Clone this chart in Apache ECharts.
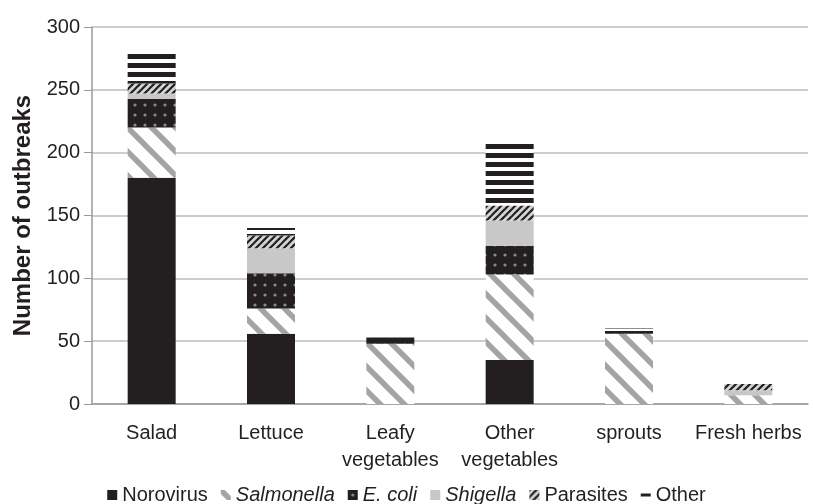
<!DOCTYPE html>
<html>
<head>
<meta charset="utf-8">
<script src="https://cdn.jsdelivr.net/npm/echarts@6/dist/echarts.min.js"></script>
<style>
  html, body { margin: 0; padding: 0; background: #fff; }
  #chart { width: 813px; height: 504px; }
</style>
</head>
<body>
<div id="chart"></div>
<script>
// data
var categories = ['Salad', 'Lettuce', 'Leafy\nvegetables', 'Other\nvegetables', 'sprouts', 'Fresh herbs'];
var norovirus  = [180, 56, 0, 35, 0, 0];
var salmonella = [40, 20, 48, 68, 56, 7];
var ecoli      = [23, 28, 5, 23, 2, 0];
var shigella   = [4, 20, 0, 20, 0, 4];
var parasites  = [8, 10, 0, 12, 0, 5];
var other      = [26, 6, 0, 49, 2, 0];
var yTicks = [0, 50, 100, 150, 200, 250, 300];

// fill patterns
function tile(w, h, draw) {
  var c = document.createElement('canvas');
  c.width = w; c.height = h;
  draw(c.getContext('2d'), w, h);
  return { image: c, repeat: 'repeat' };
}
var salmonellaFill = tile(24, 24, function (ctx, w, h) {
  ctx.fillStyle = '#fff'; ctx.fillRect(0, 0, w, h);
  ctx.strokeStyle = '#a4a4a4'; ctx.lineWidth = 5.5;
  [-24, 0, 24].forEach(function (c) {
    ctx.beginPath(); ctx.moveTo(-5, -5 + c); ctx.lineTo(29, 29 + c); ctx.stroke();
  });
});
var ecoliFill = tile(10, 10, function (ctx, w, h) {
  ctx.fillStyle = '#231f20'; ctx.fillRect(0, 0, w, h);
  ctx.fillStyle = '#8a8a8a';
  ctx.beginPath(); ctx.arc(5, 5, 1.6, 0, Math.PI * 2); ctx.fill();
});
var parasitesFill = tile(7, 7, function (ctx, w, h) {
  ctx.fillStyle = '#d4d4d4'; ctx.fillRect(0, 0, w, h);
  ctx.strokeStyle = '#231f20'; ctx.lineWidth = 2.2;
  [0, 7, 14].forEach(function (c) {
    ctx.beginPath(); ctx.moveTo(-3, c + 3); ctx.lineTo(c + 3, -3); ctx.stroke();
  });
});
var otherFill = tile(4, 9, function (ctx, w, h) {
  ctx.fillStyle = '#fff'; ctx.fillRect(0, 0, w, h);
  ctx.fillStyle = '#231f20'; ctx.fillRect(0, 0, w, 5);
});

var textColor = '#231f20';
var font = 'Liberation Sans, Arial, sans-serif';
var chart = echarts.init(document.getElementById('chart'));

function bar(name, data, fill) {
  return {
    name: name, type: 'bar', stack: 'total', data: data, barWidth: 48,
    itemStyle: { color: fill }, emphasis: { disabled: true }
  };
}

chart.setOption({
  animation: false,
  grid: { left: 92, right: 5, top: 27, bottom: 100 },
  legend: {
    top: 480, left: 'center', itemWidth: 10, itemHeight: 10, itemGap: 13,
    textStyle: { fontSize: 20, color: textColor, fontFamily: font,
      rich: { i: { fontStyle: 'italic', fontSize: 20, color: textColor, fontFamily: font } } },
    formatter: function (n) {
      return (n === 'Salmonella' || n === 'E. coli' || n === 'Shigella') ? '{i|' + n + '}' : n;
    },
    data: [
      { name: 'Norovirus', icon: 'rect' },
      { name: 'Salmonella', icon: 'rect' },
      { name: 'E. coli', icon: 'rect' },
      { name: 'Shigella', icon: 'rect' },
      { name: 'Parasites', icon: 'rect' },
      { name: 'Other', icon: 'path://M0,4h10v3h-10z', itemStyle: { color: textColor } }
    ]
  },
  xAxis: {
    type: 'category', data: categories,
    axisLine: { lineStyle: { color: '#9a9a9a', width: 1.5 } },
    axisTick: { alignWithLabel: false, length: 7, lineStyle: { color: '#9a9a9a' } },
    axisLabel: { interval: 0, hideOverlap: false, fontSize: 20, color: textColor, margin: 16,
      lineHeight: 27, fontFamily: font }
  },
  yAxis: {
    type: 'value', min: yTicks[0], max: yTicks[yTicks.length - 1], interval: 50,
    name: 'Number of outbreaks', nameLocation: 'middle', nameGap: 57,
    nameTextStyle: { fontSize: 24, fontWeight: 'bold', color: textColor, fontFamily: font },
    axisLine: { show: true, lineStyle: { color: '#9a9a9a', width: 1.5 } },
    axisTick: { show: true, length: 8, lineStyle: { color: '#9a9a9a' } },
    axisLabel: { fontSize: 20, color: textColor, margin: 12, fontFamily: font },
    splitLine: { lineStyle: { color: '#bdbdbd', width: 1.5 } }
  },
  series: [
    bar('Norovirus', norovirus, textColor),
    bar('Salmonella', salmonella, salmonellaFill),
    bar('E. coli', ecoli, ecoliFill),
    bar('Shigella', shigella, '#c8c8c8'),
    bar('Parasites', parasites, parasitesFill),
    bar('Other', other, otherFill)
  ]
});
</script>
</body>
</html>
